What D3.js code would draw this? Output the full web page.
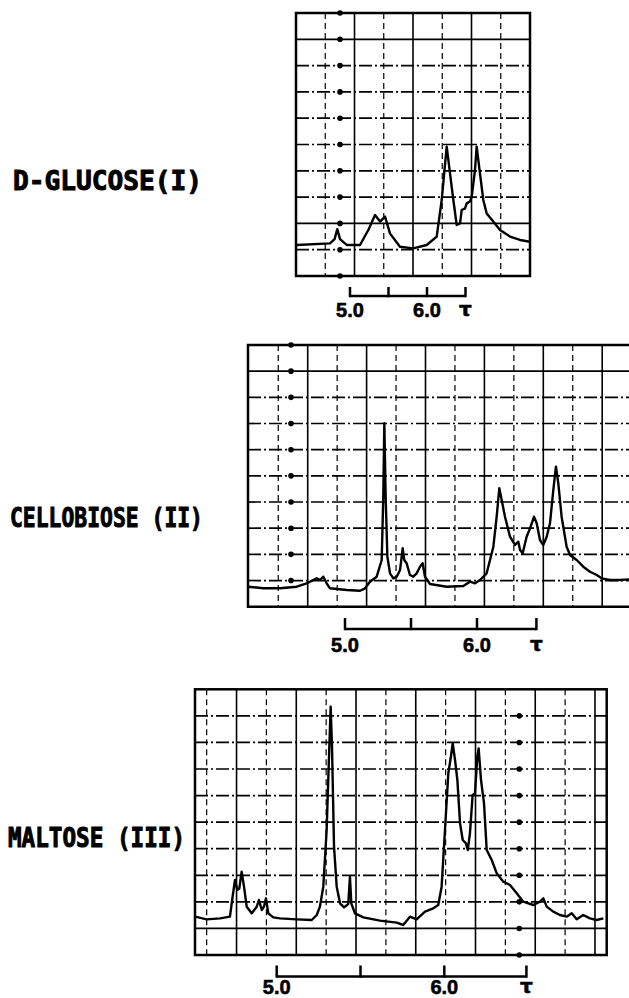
<!DOCTYPE html>
<html>
<head>
<meta charset="utf-8">
<script src="https://cdn.jsdelivr.net/npm/d3@7"></script>
<style>
  html, body { margin: 0; padding: 0; background: #fff; }
  svg { display: block; }
</style>
</head>
<body>
<svg id="chart" width="629" height="998"></svg>
<script>
// ---------------- DATA ----------------
const compoundLabels = ["D-GLUCOSE(I)", "CELLOBIOSE (II)", "MALTOSE (III)"];

// chemical shift (tau) and signal height (chart divisions, 0-10)
const glucoseShift = [4.308, 4.740, 4.800, 4.835, 4.870, 4.957, 5.130, 5.238, 5.325, 5.390, 5.455, 5.519, 5.649, 5.822, 5.996, 6.126, 6.191, 6.256, 6.299, 6.342, 6.386, 6.429, 6.451, 6.494, 6.516, 6.558, 6.581, 6.623, 6.645, 6.688, 6.731, 6.775, 6.861, 6.948, 7.078, 7.208, 7.338];
const glucoseSignal = [1.18, 1.24, 1.40, 1.78, 1.40, 1.18, 1.18, 1.75, 2.32, 2.07, 2.26, 1.62, 1.11, 1.05, 1.18, 1.50, 2.89, 4.92, 3.90, 2.89, 1.94, 2.00, 2.51, 2.57, 2.76, 2.83, 3.02, 4.03, 4.92, 3.90, 2.89, 2.38, 2.07, 1.75, 1.50, 1.37, 1.30];

const cellobioseShift = [4.267, 4.381, 4.508, 4.634, 4.710, 4.760, 4.786, 4.811, 4.836, 4.861, 4.886, 5.013, 5.114, 5.152, 5.189, 5.240, 5.278, 5.290, 5.298, 5.308, 5.321, 5.341, 5.366, 5.392, 5.417, 5.437, 5.449, 5.467, 5.492, 5.517, 5.543, 5.568, 5.588, 5.606, 5.644, 5.770, 5.896, 5.947, 5.985, 6.023, 6.073, 6.124, 6.149, 6.169, 6.187, 6.212, 6.250, 6.288, 6.313, 6.326, 6.346, 6.376, 6.402, 6.432, 6.452, 6.477, 6.502, 6.528, 6.553, 6.578, 6.598, 6.616, 6.641, 6.679, 6.705, 6.755, 6.805, 6.856, 6.907, 6.944, 7.008, 7.083, 7.159];
const cellobioseSignal = [0.764, 0.703, 0.703, 0.764, 0.894, 1.020, 1.085, 1.020, 1.146, 0.894, 0.703, 0.638, 0.611, 0.703, 0.955, 1.146, 1.785, 4.203, 7.008, 4.203, 1.911, 1.276, 1.085, 1.146, 1.402, 2.232, 1.785, 1.658, 1.211, 1.146, 1.276, 1.529, 1.658, 1.146, 0.867, 0.764, 0.791, 0.955, 0.894, 1.020, 1.276, 2.293, 3.439, 4.524, 4.077, 3.439, 2.675, 2.358, 2.484, 2.167, 2.040, 2.675, 2.996, 3.439, 3.187, 2.549, 2.358, 2.675, 3.187, 4.459, 5.350, 4.715, 3.439, 2.293, 1.976, 1.785, 1.529, 1.337, 1.211, 1.085, 1.020, 1.020, 1.047];

const maltoseShift = [4.513, 4.582, 4.662, 4.721, 4.737, 4.751, 4.765, 4.777, 4.791, 4.805, 4.821, 4.851, 4.881, 4.894, 4.911, 4.924, 4.936, 4.950, 4.980, 5.020, 5.119, 5.209, 5.239, 5.258, 5.278, 5.298, 5.314, 5.322, 5.330, 5.342, 5.358, 5.378, 5.402, 5.427, 5.437, 5.445, 5.467, 5.517, 5.616, 5.716, 5.755, 5.795, 5.835, 5.885, 5.934, 5.964, 5.984, 6.004, 6.024, 6.038, 6.050, 6.064, 6.078, 6.094, 6.110, 6.129, 6.140, 6.153, 6.169, 6.183, 6.197, 6.205, 6.219, 6.237, 6.253, 6.283, 6.313, 6.352, 6.392, 6.432, 6.471, 6.531, 6.571, 6.591, 6.611, 6.650, 6.690, 6.730, 6.760, 6.790, 6.829, 6.869, 6.909, 6.949];
const maltoseSignal = [1.443, 1.342, 1.380, 1.443, 2.195, 2.823, 2.446, 2.509, 3.136, 2.572, 1.819, 1.568, 1.819, 2.070, 1.694, 1.819, 2.133, 1.568, 1.418, 1.380, 1.342, 1.317, 1.505, 1.819, 2.572, 4.705, 7.840, 9.345, 7.840, 4.077, 2.572, 1.945, 1.794, 1.919, 2.948, 1.945, 1.568, 1.418, 1.292, 1.217, 1.129, 1.443, 1.342, 1.631, 1.756, 1.882, 2.572, 4.705, 6.839, 7.403, 7.968, 7.339, 6.586, 4.956, 4.328, 4.203, 3.952, 4.579, 6.022, 6.086, 7.465, 7.778, 6.586, 5.708, 3.952, 3.575, 3.073, 2.760, 2.635, 2.321, 2.007, 1.882, 2.007, 2.133, 1.819, 1.631, 1.505, 1.443, 1.568, 1.342, 1.505, 1.380, 1.317, 1.380];

// scale bar ticks (tau) and labels
const scaleTicks = [5.0, 5.5, 6.0];
const scaleTickLabels = ["5.0", "6.0"];
const scaleUnitLabel = "τ";
const scaleEnds = [6.5, 6.45, 6.49];

// ---------------- LAYOUT ----------------
const layouts = [
  { frame: {x0: 296, x1: 530, y0: 13, y1: 276}, px5: 350, px6: 427,
    gridStart: 296, gridStep: 29.25, dotX: 340, dotRows: [0,1,2,3,4,5,6,7,8,9,10], solidRows: [2, 9],
    barTop: 287, barY: 296, labelY: 316.5,
    textX: 13, textY: 190, textLen: 189, rightBorder: true },
  { frame: {x0: 248, x1: 660, y0: 345, y1: 606.7}, px5: 345, px6: 477,
    gridStart: 248.8, gridStep: 29.45, dotX: 291, dotRows: [1,2,3,4,5,6,7,8,9,10], solidRows: [9],
    barTop: 618, barY: 629, labelY: 651.5,
    textX: 10, textY: 527, textLen: 193, rightBorder: false },
  { frame: {x0: 195, x1: 606.7, y0: 689.3, y1: 955}, px5: 276.7, px6: 444.3,
    gridStart: 176.8, gridStep: 29.87, dotX: 519.3, dotRows: [0,1,2,3,4,5,6,7,8,9], solidRows: [1],
    barTop: 965.5, barY: 976.5, labelY: 994,
    textX: 8, textY: 847, textLen: 177, rightBorder: true }
];

const series = [
  {shift: glucoseShift, signal: glucoseSignal},
  {shift: cellobioseShift, signal: cellobioseSignal},
  {shift: maltoseShift, signal: maltoseSignal}
];

const svg = d3.select("#chart");

layouts.forEach((L, i) => {
  const f = L.frame;
  const x = d3.scaleLinear().domain([5, 6]).range([L.px5, L.px6]);
  const y = d3.scaleLinear().domain([0, 10]).range([f.y1, f.y0]);
  const g = svg.append("g");

  const clipId = "clip" + i;
  svg.append("clipPath").attr("id", clipId)
    .append("rect").attr("x", f.x0).attr("y", f.y0)
    .attr("width", f.x1 - f.x0).attr("height", f.y1 - f.y0);

  // vertical grid
  const vLines = [];
  for (let k = 1; ; k++) {
    const vx = L.gridStart + k * L.gridStep;
    if (vx > f.x1 - 3) break;
    if (vx > f.x0 + 3) vLines.push({x: vx, solid: k % 2 === 0});
  }
  g.selectAll(".vgrid").data(vLines).enter().append("line")
    .attr("x1", d => d.x).attr("x2", d => d.x)
    .attr("y1", f.y0).attr("y2", f.y1)
    .attr("stroke", "#000")
    .attr("stroke-width", d => d.solid ? 1.6 : 1.2)
    .attr("stroke-dasharray", d => d.solid ? null : "6,4");

  // horizontal grid
  const hRows = d3.range(1, 10);
  g.selectAll(".hgrid").data(hRows).enter().append("line")
    .attr("x1", f.x0).attr("x2", f.x1)
    .attr("y1", d => y(d)).attr("y2", d => y(d))
    .attr("stroke", "#000")
    .attr("stroke-width", 1.7)
    .attr("stroke-dasharray", d => L.solidRows.includes(d) ? null : "13,3,2,3");

  // dots
  g.selectAll(".dot").data(L.dotRows).enter().append("circle")
    .attr("cx", L.dotX).attr("cy", d => y(d)).attr("r", 2.8).attr("fill", "#000");

  // frame
  if (L.rightBorder) {
    g.append("rect").attr("x", f.x0).attr("y", f.y0)
      .attr("width", f.x1 - f.x0).attr("height", f.y1 - f.y0)
      .attr("fill", "none").attr("stroke", "#000").attr("stroke-width", 2.5);
  } else {
    const fr = d3.path();
    fr.moveTo(f.x1, f.y0); fr.lineTo(f.x0, f.y0); fr.lineTo(f.x0, f.y1); fr.lineTo(f.x1, f.y1);
    g.append("path").attr("d", fr.toString())
      .attr("fill", "none").attr("stroke", "#000").attr("stroke-width", 2.5);
  }

  // spectrum trace
  const s = series[i];
  const pts = s.shift.map((t, j) => [t, s.signal[j]]);
  const line = d3.line().x(d => x(d[0])).y(d => y(d[1])).curve(d3.curveLinear);
  g.append("path").datum(pts)
    .attr("clip-path", `url(#${clipId})`)
    .attr("d", line)
    .attr("fill", "none").attr("stroke", "#000")
    .attr("stroke-width", 2.4).attr("stroke-linejoin", "round");

  // scale bar
  const end = scaleEnds[i];
  const barTicks = scaleTicks.concat([end]);
  g.append("line").attr("x1", x(5.0)).attr("x2", x(end))
    .attr("y1", L.barY).attr("y2", L.barY)
    .attr("stroke", "#000").attr("stroke-width", 2.5);
  g.selectAll(".btick").data(barTicks).enter().append("line")
    .attr("x1", d => x(d)).attr("x2", d => x(d))
    .attr("y1", L.barTop).attr("y2", L.barY + 1.2)
    .attr("stroke", "#000").attr("stroke-width", 2.5);
  const labelPos = [5.0, 6.0];
  g.selectAll(".blabel").data(scaleTickLabels).enter().append("text")
    .attr("x", (d, j) => x(labelPos[j])).attr("y", L.labelY)
    .attr("text-anchor", "middle")
    .attr("font-family", "Liberation Sans, Arial, sans-serif")
    .attr("font-weight", "bold").attr("font-size", 20)
    .attr("stroke", "#000").attr("stroke-width", 0.6)
    .text(d => d);
  g.append("text").attr("x", x(end)).attr("y", L.labelY - 1)
    .attr("text-anchor", "middle")
    .attr("font-family", "DejaVu Sans, sans-serif")
    .attr("font-weight", "bold").attr("font-size", 20)
    .attr("stroke", "#000").attr("stroke-width", 0.6)
    .text(scaleUnitLabel);

  // compound label
  g.append("text").attr("x", L.textX).attr("y", L.textY)
    .attr("font-family", "DejaVu Sans Mono, monospace")
    .attr("font-weight", "bold").attr("font-size", 27)
    .attr("stroke", "#000").attr("stroke-width", 1)
    .attr("textLength", L.textLen).attr("lengthAdjust", "spacingAndGlyphs")
    .text(compoundLabels[i]);
});
</script>
</body>
</html>
